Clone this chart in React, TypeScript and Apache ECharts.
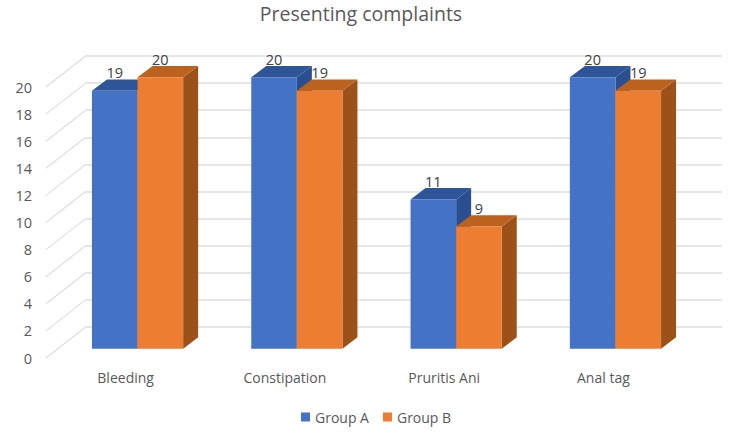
import React, { useEffect, useRef } from "react";
import * as echarts from "echarts";

const categories = ["Bleeding", "Constipation", "Pruritis Ani", "Anal tag"];
const groupA = [19, 20, 11, 20];
const groupB = [20, 19, 9, 19];
const yTicks = [0, 2, 4, 6, 8, 10, 12, 14, 16, 18, 20];

const FONT = "'Open Sans', 'Noto Sans', sans-serif";
const TEXT = "#595959";
const GRID = "#DEDEDE";
const BAR_W = 45.6;
const DEPTH_X = 15;
const DEPTH_Y = 11.4;
const WALL_X = 39;
const WALL_Y = 30.5;

function barRenderer(offset: number, front: string, top: string, side: string) {
  return (_params: any, api: any) => {
    const [cx, yTop] = api.coord([api.value(0), api.value(1)]);
    const [, yBase] = api.coord([api.value(0), 0]);
    const x0 = cx + offset * BAR_W;
    const x1 = x0 + BAR_W;
    return {
      type: "group",
      children: [
        {
          type: "polygon",
          shape: { points: [[x1, yTop], [x1 + DEPTH_X, yTop - DEPTH_Y], [x1 + DEPTH_X, yBase - DEPTH_Y], [x1, yBase]] },
          style: { fill: side },
        },
        {
          type: "polygon",
          shape: { points: [[x0, yTop], [x0 + DEPTH_X, yTop - DEPTH_Y], [x1 + DEPTH_X, yTop - DEPTH_Y], [x1, yTop]] },
          style: { fill: top },
        },
        { type: "rect", shape: { x: x0, y: yTop, width: BAR_W, height: yBase - yTop }, style: { fill: front } },
        {
          type: "text",
          z2: 10,
          style: {
            x: x0 + BAR_W / 2,
            y: yTop - 18,
            text: String(api.value(1)),
            fill: "#404040",
            font: `14.5px ${FONT}`,
            textAlign: "center",
            textVerticalAlign: "middle",
          },
        },
      ],
    };
  };
}

export default function App() {
  const ref = useRef<HTMLDivElement>(null);
  useEffect(() => {
    const chart = echarts.init(ref.current!, undefined, { renderer: "svg" });
    const hiddenCat = { type: "category" as const, data: categories, show: false };
    const hiddenVal = { type: "value" as const, min: 0, max: 20, interval: 2, show: false };
    chart.setOption({
      animation: false,
      backgroundColor: "#fff",
      title: {
        text: "Presenting complaints",
        left: 356,
        top: -2,
        textAlign: "center",
        textStyle: { fontFamily: FONT, fontSize: 19.5, fontWeight: "normal", color: TEXT },
      },
      legend: {
        data: ["Group A", "Group B"],
        left: 296,
        top: 405,
        icon: "rect",
        itemWidth: 9,
        itemHeight: 9,
        itemGap: 14,
        selectedMode: false,
        textStyle: { fontFamily: FONT, fontSize: 14, color: TEXT },
      },
      grid: [
        { left: 46, top: 87, width: 637, height: 271 },
        { left: 85, top: 56, width: 637, height: 271 },
        { left: 57.9, top: 77.3, width: 637.2, height: 271.4 },
      ],
      xAxis: [
        {
          type: "category",
          gridIndex: 0,
          data: categories,
          axisLine: { show: false },
          axisTick: { show: false },
          axisLabel: { margin: 12, fontFamily: FONT, fontSize: 14, color: TEXT },
        },
        { ...hiddenCat, gridIndex: 1 },
        { ...hiddenCat, gridIndex: 2 },
      ],
      yAxis: [
        {
          type: "value",
          gridIndex: 0,
          min: 0,
          max: 20,
          interval: 2,
          axisLine: { show: false },
          axisTick: { show: false },
          splitLine: { show: false },
          axisLabel: { margin: 14, fontFamily: FONT, fontSize: 14.5, color: TEXT, padding: [0, 0, 2, 0] },
        },
        {
          type: "value",
          gridIndex: 1,
          min: 0,
          max: 20,
          interval: 2,
          axisLine: { show: false },
          axisTick: { show: false },
          axisLabel: { show: false },
          splitLine: { show: true, lineStyle: { color: GRID, width: 1.5 } },
        },
        { ...hiddenVal, gridIndex: 2 },
      ],
      series: [
        {
          type: "custom",
          name: "wall",
          xAxisIndex: 0,
          yAxisIndex: 0,
          z: 1,
          silent: true,
          data: yTicks.map((t) => [0, t]),
          renderItem: (params: any, api: any) => {
            const [, y] = api.coord([0, api.value(1)]);
            const x = params.coordSys.x;
            return {
              type: "line",
              shape: { x1: x, y1: y, x2: x + WALL_X, y2: y - WALL_Y },
              style: { stroke: GRID, lineWidth: 1.2 },
            };
          },
        },
        {
          type: "custom",
          name: "Group A",
          xAxisIndex: 2,
          yAxisIndex: 2,
          z: 3,
          itemStyle: { color: "#4472C4" },
          data: groupA.map((v, i) => [i, v]),
          renderItem: barRenderer(-1, "#4472C4", "#2E5597", "#2A4F90"),
        },
        {
          type: "custom",
          name: "Group B",
          xAxisIndex: 2,
          yAxisIndex: 2,
          z: 4,
          itemStyle: { color: "#ED7D31" },
          data: groupB.map((v, i) => [i, v]),
          renderItem: barRenderer(0, "#ED7D31", "#BC621F", "#9C5119"),
        },
      ],
    });
    return () => chart.dispose();
  }, []);
  return <div ref={ref} style={{ position: "absolute", left: 0, top: 0, width: 743, height: 438 }} />;
}
